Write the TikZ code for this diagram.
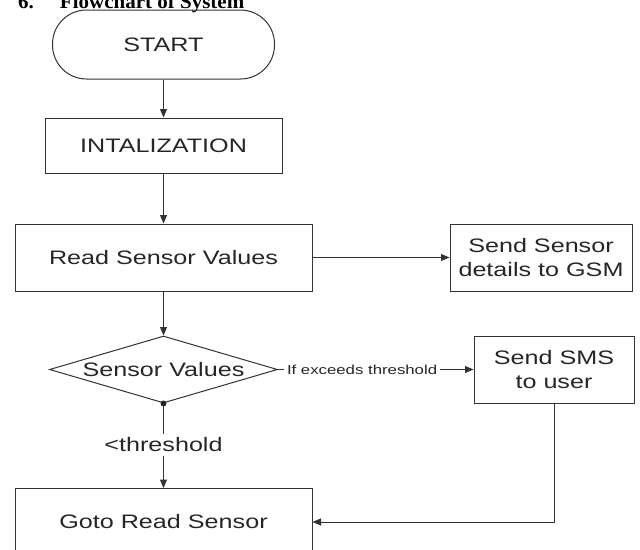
\documentclass[tikz,border=0pt]{standalone}
\usepackage{fontspec}
\setmainfont{Liberation Sans}
\newfontfamily\boxfont[FakeStretch=1.29]{Liberation Sans}
\newfontfamily\ttlfont[FakeStretch=1.05]{Liberation Serif}
\usetikzlibrary{shapes.geometric,arrows.meta}
\newcommand{\boxtext}{\boxfont\fontsize{19.5pt}{24pt}\selectfont}
\newcommand{\smalltext}{\boxfont\fontsize{13pt}{15pt}\selectfont}
\tikzset{
  box/.style={draw=black!80, line width=1pt, rectangle, inner sep=0pt, align=center, font=\boxtext, text=black!85},
  decbox/.style={draw=black!80, line width=1pt, diamond, aspect=3.4, inner sep=0pt, minimum width=228pt, minimum height=67pt, font=\boxtext, text=black!85},
  arr/.style={draw=black!80, line width=1pt, -{Triangle[length=8.5pt,width=7pt]}},
  lbl/.style={fill=white, text=black!85, inner sep=3pt}
}
\begin{document}
\begin{tikzpicture}[x=1pt,y=-1pt]
\useasboundingbox (0,0) rectangle (640,549);
\clip (0,0) rectangle (640,549);
\fill[white] (0,0) rectangle (640,549);
\node[anchor=base west, inner sep=0pt, font=\ttlfont\bfseries\fontsize{20pt}{24pt}\selectfont] (title) at (18,8) {6.\hspace{26pt}Flowchart of System};
\node[box, minimum width=222pt, minimum height=69pt, rounded corners=34pt] (start) at (163.5,44.5) {START};
\node[box, minimum width=237pt, minimum height=55pt] (init) at (163.5,145.5) {INTALIZATION};
\node[box, minimum width=297pt, minimum height=67pt] (read) at (163.5,257.5) {Read Sensor Values};
\node[box, minimum width=182pt, minimum height=67pt] (gsm) at (541,257.5) {Send Sensor\\details to GSM};
\node[decbox] (dec) at (163.5,369.5) {Sensor Values};
\node[box, minimum width=160pt, minimum height=67pt] (sms) at (554,369.5) {Send SMS\\to user};
\node[box, minimum width=297pt, minimum height=67pt] (goto) at (163.5,522) {Goto Read Sensor};
\draw[arr] (start) -- (init);
\draw[arr] (init) -- (read);
\draw[arr] (read) -- (gsm);
\draw[arr] (read) -- (dec);
\draw[arr] (dec.east) -- node[lbl, pos=0.43, font=\smalltext] {If exceeds threshold} (sms.west);
\draw[arr] (dec.south) -- node[lbl, pos=0.49, font=\boxtext, inner sep=4pt] {<threshold} (goto.north);
\fill[black!85] (dec.south) circle (3pt);
\draw[arr] (sms.south) |- (goto.east);
\end{tikzpicture}
\end{document}
